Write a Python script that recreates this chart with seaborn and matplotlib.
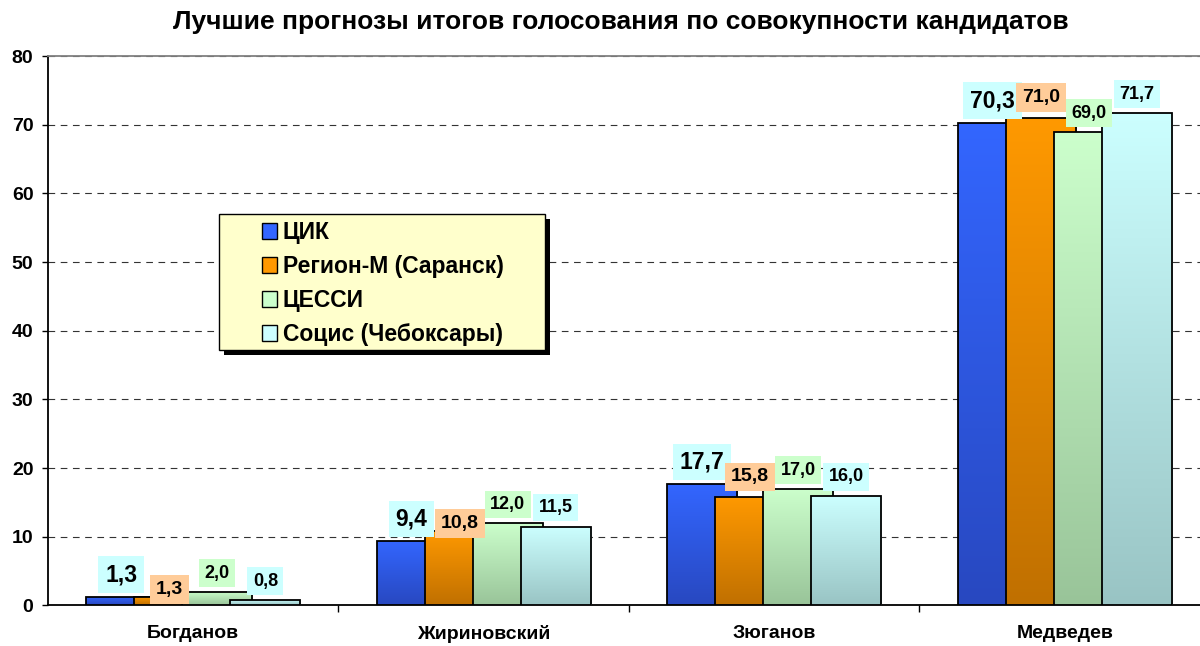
#!/usr/bin/env python3
"""
Лучшие прогнозы итогов голосования - grouped bar chart
"""

import numpy as np
import pandas as pd
import matplotlib
matplotlib.use('Agg')
import matplotlib.pyplot as plt
import seaborn as sns
from matplotlib.patches import Patch, Rectangle
from matplotlib.colors import LinearSegmentedColormap

# Data
candidates = ['Богданов', 'Жириновский', 'Зюганов', 'Медведев']
sources = ['ЦИК', 'Регион-М (Саранск)', 'ЦЕССИ', 'Социс (Чебоксары)']
cik = [1.3, 9.4, 17.7, 70.3]
region_m = [1.3, 10.8, 15.8, 71.0]
cessi = [2.0, 12.0, 17.0, 69.0]
socis = [0.8, 11.5, 16.0, 71.7]
title = 'Лучшие прогнозы итогов голосования по совокупности кандидатов'

# Styles
top_colors = ['#3366FF', '#FF9900', '#CCFFCC', '#CCFFFF']
bottom_colors = ['#2848C0', '#C07000', '#99C499', '#99C4C4']
label_bg = ['#CCFFFF', '#FFCC99', '#CCFFCC', '#CCFFFF']
label_size = [16.5, 14, 13, 13]
label_offset_px = [22, 20, 18.5, 19]
label_offset_special = {(1, 0): 7, (1, 1): 7.5}  # (series, candidate) -> px

df = pd.DataFrame({
    'candidate': candidates * 4,
    'source': np.repeat(sources, len(candidates)),
    'value': cik + region_m + cessi + socis,
})

sns.set_style('white')
plt.rcParams['font.family'] = ['Liberation Sans', 'DejaVu Sans']
plt.rcParams['font.weight'] = 'bold'
plt.rcParams['text.color'] = 'black'
plt.rcParams['xtick.color'] = 'black'
plt.rcParams['ytick.color'] = 'black'

fig = plt.figure(figsize=(12, 6.46), dpi=100)
ax = fig.add_axes([0.04, 0.0627, 0.9683, 0.8506])

sns.barplot(data=df, x='candidate', y='value', hue='source', order=candidates,
            hue_order=sources, width=0.662, gap=0, legend=False, ax=ax,
            errorbar=None)

bar_w = 0.241
for i, cont in enumerate(ax.containers):
    cmap = LinearSegmentedColormap.from_list(f'g{i}', [bottom_colors[i], top_colors[i]])
    grad = np.linspace(0, 1, 256).reshape(-1, 1)
    for j, p in enumerate(cont.patches):
        cx = p.get_x() + p.get_width() / 2
        h = p.get_height()
        p.set_x(cx - bar_w / 2)
        p.set_width(bar_w)
        p.set_facecolor('none')
        p.set_edgecolor('black')
        p.set_linewidth(1.3)
        p.set_zorder(3 + 2 * i + 1)
        im = ax.imshow(grad, extent=[cx - bar_w / 2, cx + bar_w / 2, 0, h],
                       origin='lower', cmap=cmap, aspect='auto',
                       zorder=3 + 2 * i, interpolation='bicubic')
        im.set_clip_path(p)
        # value label
        off = label_offset_special.get((i, j), label_offset_px[i]) * 0.72
        ax.annotate(f'{h:.1f}'.replace('.', ','), xy=(cx, h), xytext=(0, off),
                    textcoords='offset points', ha='center', va='center',
                    fontsize=label_size[i], fontweight='bold', zorder=20,
                    bbox=dict(boxstyle='square,pad=0.3', fc=label_bg[i], ec='none'))

ax.set_xlim(-0.5, 3.5)
ax.set_ylim(0, 80)
ax.set_yticks(range(0, 81, 10))
ax.set_xlabel('')
ax.set_ylabel('')

ax.yaxis.grid(True, linestyle=(0, (6, 5)), color='#333333', linewidth=0.8)
ax.set_axisbelow(True)
for s in ['left', 'bottom']:
    ax.spines[s].set_color('black')
    ax.spines[s].set_linewidth(1.3)
ax.spines['top'].set_color('#808080')
ax.spines['top'].set_linewidth(1.3)
ax.spines['right'].set_visible(False)

ax.tick_params(axis='y', which='major', direction='out', length=4.5, width=1,
               labelsize=14, pad=6, left=True, color='black')
ax.tick_params(axis='x', which='major', length=0, labelsize=14, pad=14)
ax.set_xticks([0.5, 1.5, 2.5], minor=True)
ax.tick_params(axis='x', which='minor', direction='out', length=5, width=1,
               bottom=True, color='black')
for t in ax.get_xticklabels() + ax.get_yticklabels():
    t.set_fontweight('bold')

fig.text(0.517, 0.966, title, ha='center', va='center', fontsize=19,
         fontweight='bold')

# Legend box with shadow
lx0, ly0, lx1, ly1 = 219, 214, 545, 350
fig.patches.append(Rectangle(((lx0 + 5) / 1200, 1 - (ly1 + 5) / 646),
                             (lx1 - lx0) / 1200, (ly1 - ly0) / 646,
                             transform=fig.transFigure, fc='black', ec='none',
                             zorder=2))
fig.patches.append(Rectangle((lx0 / 1200, 1 - ly1 / 646),
                             (lx1 - lx0) / 1200, (ly1 - ly0) / 646,
                             transform=fig.transFigure, fc='#FFFFCC', ec='black',
                             lw=1, zorder=3))
handles = [Patch(facecolor=c, edgecolor='black', linewidth=1) for c in top_colors]
fig.legend(handles, sources, loc='upper left', bbox_to_anchor=(262 / 1200, 1 - 221 / 646),
           frameon=False, borderpad=0, borderaxespad=0, handlelength=0.65,
           handleheight=0.65, handletextpad=0.25, labelspacing=0.48,
           prop={'size': 16.5, 'weight': 'bold'})

fig.savefig('out.png', dpi=100)
